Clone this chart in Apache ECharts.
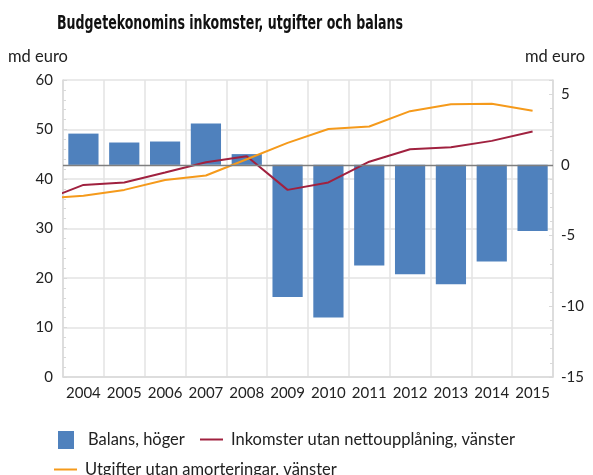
<!DOCTYPE html>
<html>
<head>
<meta charset="utf-8">
<script src="https://cdn.jsdelivr.net/npm/echarts@6/dist/echarts.min.js"></script>
<style>html,body{margin:0;padding:0;background:#fff}#c{width:593px;height:475px}</style>
</head>
<body>
<div id="c"></div>
<script>
const years = ['2004','2005','2006','2007','2008','2009','2010','2011','2012','2013','2014','2015'];
// line series x positions (2003 value gives the partial segment at the left edge)
const lineYears = [2003,2004,2005,2006,2007,2008,2009,2010,2011,2012,2013,2014,2015];
const balans = [2.21,1.58,1.65,2.92,0.76,-9.34,-10.8,-7.12,-7.73,-8.44,-6.84,-4.67];
const inkomster = [35.6,38.8,39.3,41.3,43.4,44.6,37.8,39.3,43.5,46.0,46.4,47.7,49.6];
const utgifter = [36.1,36.6,37.8,39.8,40.7,44.0,47.3,50.1,50.6,53.7,55.1,55.2,53.8];
const leftTicks = {min:0, max:60, interval:10};
const rightTicks = {min:-15, max:6, interval:5};

const FONT = 'Lato, "Open Sans", sans-serif';
const chart = echarts.init(document.getElementById('c'), null, {renderer:'canvas'});
const pair = (xs, ys) => xs.map((x,i)=>[x, ys[i]]);

chart.setOption({
  animation:false,
  backgroundColor:'#fff',
  graphic:[
    {type:'text', x:57, y:14, scaleX:0.70, scaleY:1,
     style:{text:'Budgetekonomins inkomster, utgifter och balans',
            font:'bold 20px "DejaVu Sans Condensed", "DejaVu Sans", sans-serif', fill:'#111'}},
    {type:'text', left:8, top:48, style:{text:'md euro', font:'16.5px '+FONT, fill:'#222'}},
    {type:'text', right:8, top:48, style:{text:'md euro', font:'16.5px '+FONT, fill:'#222'}}
  ],
  grid:{left:63, right:40, top:80, bottom:98},
  legend:[
    {data:[{name:'Balans, höger', icon:'rect'}], left:58, top:431, padding:0, itemWidth:16, itemHeight:18,
     textStyle:{fontFamily:FONT, fontSize:16.5, color:'#222', padding:[0,0,0,9]}},
    {data:[{name:'Inkomster utan nettoupplåning, vänster', icon:'rect'}], left:200, top:431, padding:0, itemWidth:23, itemHeight:2,
     textStyle:{fontFamily:FONT, fontSize:16.5, color:'#222', padding:[0,0,0,3]}},
    {data:[{name:'Utgifter utan amorteringar, vänster', icon:'rect'}], left:54, top:461, padding:0, itemWidth:23, itemHeight:2,
     textStyle:{fontFamily:FONT, fontSize:16.5, color:'#222', padding:[0,0,0,3]}}
  ],
  xAxis:[
    {type:'category', data:years, boundaryGap:true,
     axisLine:{lineStyle:{color:'#d9d9d9', width:1.5}}, axisTick:{show:false},
     axisLabel:{fontFamily:FONT, fontSize:15, color:'#222', margin:9, interval:0},
     splitLine:{show:true, interval:0, lineStyle:{color:'#e3e3e3', width:1.5}}},
    {type:'value', min:2003.5, max:2015.5, show:false}
  ],
  yAxis:[
    {type:'value', min:leftTicks.min, max:leftTicks.max, interval:leftTicks.interval, position:'left',
     axisLine:{show:true, lineStyle:{color:'#d9d9d9', width:1.5}},
     axisTick:{show:true, inside:true, length:4, lineStyle:{color:'#d9d9d9'}},
     minorTick:{show:true, splitNumber:5, length:3, lineStyle:{color:'#d9d9d9'}},
     axisLabel:{fontFamily:FONT, fontSize:15, color:'#222', margin:10},
     splitLine:{show:true, lineStyle:{color:'#e3e3e3', width:1.5}}},
    {type:'value', min:rightTicks.min, max:rightTicks.max, interval:rightTicks.interval, position:'right',
     axisLine:{show:true, lineStyle:{color:'#d9d9d9', width:1.5}},
     axisTick:{show:true, inside:true, length:4, lineStyle:{color:'#d9d9d9'}},
     minorTick:{show:true, splitNumber:5, length:3, lineStyle:{color:'#d9d9d9'}},
     axisLabel:{fontFamily:FONT, fontSize:15, color:'#222', margin:8, showMaxLabel:false},
     splitLine:{show:false}}
  ],
  series:[
    {name:'Balans, höger', type:'bar', xAxisIndex:0, yAxisIndex:1, data:balans,
     barCategoryGap:'26%', itemStyle:{color:'#4f81bd'},
     markLine:{silent:true, symbol:['none','none'], label:{show:false},
       lineStyle:{color:'#7f7f7f', width:1.3, type:'solid'}, data:[{yAxis:0}]}},
    {name:'Inkomster utan nettoupplåning, vänster', type:'line', xAxisIndex:1, yAxisIndex:0,
     data:pair(lineYears, inkomster), showSymbol:false, symbol:'none', clip:true,
     itemStyle:{color:'#a0213f'}, lineStyle:{color:'#a0213f', width:2}},
    {name:'Utgifter utan amorteringar, vänster', type:'line', xAxisIndex:1, yAxisIndex:0,
     data:pair(lineYears, utgifter), showSymbol:false, symbol:'none', clip:true,
     itemStyle:{color:'#f59a1b'}, lineStyle:{color:'#f59a1b', width:2}}
  ]
});
</script>
</body>
</html>
